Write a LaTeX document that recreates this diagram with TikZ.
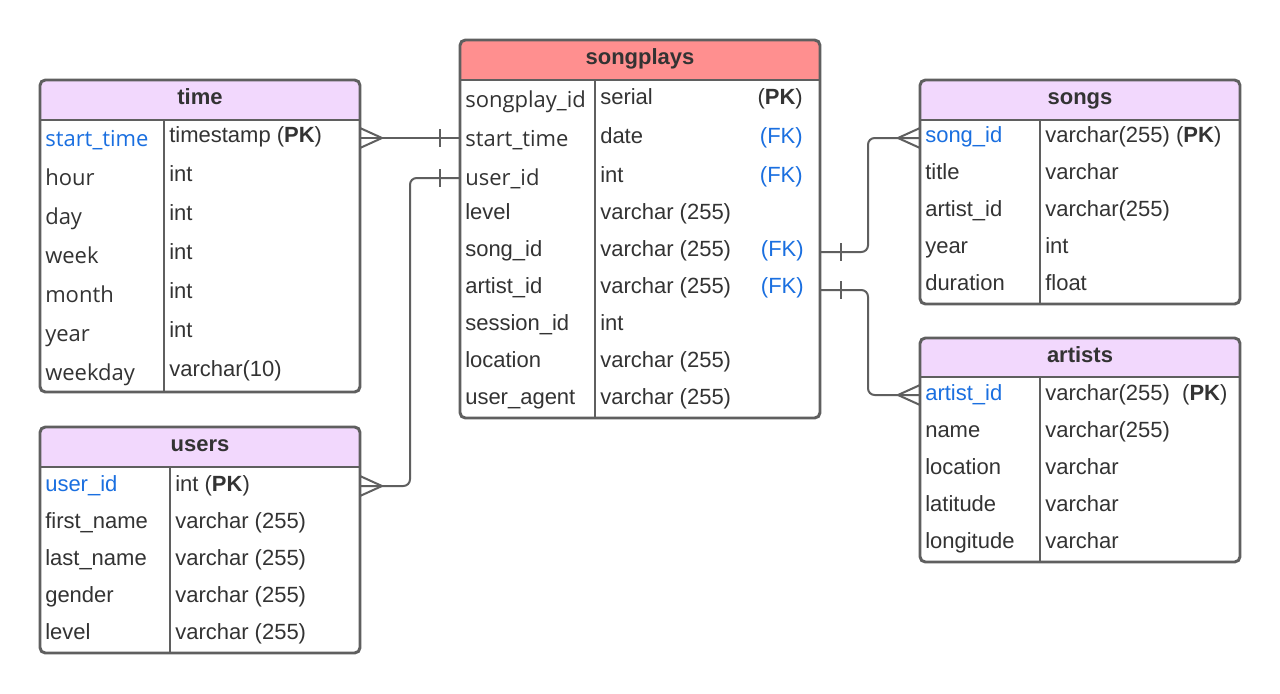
\documentclass[tikz,border=0pt]{standalone}
\usepackage{fontspec}
\usetikzlibrary{calc}
\setmainfont{Liberation Sans}
\newfontfamily\osans{Open Sans}
\definecolor{bordc}{HTML}{5F5F5F}
\definecolor{hdr}{HTML}{F2D8FD}
\definecolor{hdrr}{HTML}{FF8F8F}
\definecolor{txt}{HTML}{333333}
\definecolor{blu}{HTML}{1A6FE0}
\newcommand\fs{\fontsize{16.5}{19}\selectfont}
\newcommand\erbox[8]{%
  \begin{scope}
    \clip[rounded corners=4pt] (#2,#3) rectangle (#4,#5);
    \fill[#8] (#2,#3) rectangle (#4,#6);
  \end{scope}
  \draw[tline] (#2,#6) -- (#4,#6) (#7,#6) -- (#7,#5);
  \draw[tline, rounded corners=4pt] (#2,#3) rectangle (#4,#5);
  \coordinate (#1) at (#2,#3);
}
\tikzset{
  x=0.75pt, y=-0.75pt,
  tline/.style={draw=bordc, line width=2.2pt},
  conn/.style={draw=bordc, line width=1.5pt},
  nm/.style={anchor=base west, inner sep=0pt, text=txt, font=\fs},
  os/.style={nm, font=\fs\osans},
  rt/.style={anchor=base east, inner sep=0pt, text=txt, font=\fs},
  ttl/.style={anchor=base, inner sep=0pt, text=txt, font=\fs\bfseries},
}
\begin{document}
\begin{tikzpicture}
\useasboundingbox (0,0) rectangle (1280,693);
\fill[white] (0,0) rectangle (1280,693);

% tables
\erbox{timeT}{40}{80}{360}{392}{120}{164}{hdr}
\erbox{usersT}{40}{427}{360}{653}{467}{170}{hdr}
\erbox{spT}{460}{40}{820}{418}{80}{595}{hdrr}
\erbox{songsT}{920}{80}{1240}{304}{120}{1040}{hdr}
\erbox{artT}{920}{338}{1240}{562}{377}{1040}{hdr}

% titles
\node[ttl] (t-time) at (200,104.5) {time};
\node[ttl] (t-users) at (200,451.5) {users};
\node[ttl] (t-sp) at (640,64.5) {songplays};
\node[ttl] (t-songs) at (1080,104.5) {songs};
\node[ttl] (t-art) at (1080,362) {artists};

% time
\node[os, text=blu] (tm1) at (45,146) {start\_time};
\node[os] (tm2) at (45,185) {hour};
\node[os] (tm3) at (45,224) {day};
\node[os] (tm4) at (45,263) {week};
\node[os] (tm5) at (45,302) {month};
\node[os] (tm6) at (45,341) {year};
\node[os] (tm7) at (45,380) {weekday};
\node[nm] (tt1) at (169,142.5) {timestamp (\textbf{PK})};
\node[nm] (tt2) at (169,181.5) {int};
\node[nm] (tt3) at (169,220.5) {int};
\node[nm] (tt4) at (169,259.5) {int};
\node[nm] (tt5) at (169,298.5) {int};
\node[nm] (tt6) at (169,337.5) {int};
\node[nm] (tt7) at (169,376.5) {varchar(10)};

% users
\node[nm, text=blu] (um1) at (45,491) {user\_id};
\node[nm] (um2) at (45,528) {first\_name};
\node[nm] (um3) at (45,565) {last\_name};
\node[nm] (um4) at (45,602) {gender};
\node[nm] (um5) at (45,639) {level};
\node[nm] (ut1) at (175,491) {int (\textbf{PK})};
\node[nm] (ut2) at (175,528) {varchar (255)};
\node[nm] (ut3) at (175,565) {varchar (255)};
\node[nm] (ut4) at (175,602) {varchar (255)};
\node[nm] (ut5) at (175,639) {varchar (255)};

% songplays
\node[os] (sm1) at (465,107) {songplay\_id};
\node[os] (sm2) at (465,146) {start\_time};
\node[os] (sm3) at (465,185) {user\_id};
\node[nm] (sm4) at (465,219) {level};
\node[nm] (sm5) at (465,256) {song\_id};
\node[nm] (sm6) at (465,293) {artist\_id};
\node[nm] (sm7) at (465,330) {session\_id};
\node[nm] (sm8) at (465,367) {location};
\node[nm] (sm9) at (465,404) {user\_agent};
\node[nm] (st1) at (600,104) {serial};
\node[nm] (st2) at (600,143) {date};
\node[nm] (st3) at (600,182) {int};
\node[nm] (st4) at (600,219) {varchar (255)};
\node[nm] (st5) at (600,256) {varchar (255)};
\node[nm] (st6) at (600,293) {varchar (255)};
\node[nm] (st7) at (600,330) {int};
\node[nm] (st8) at (600,367) {varchar (255)};
\node[nm] (st9) at (600,404) {varchar (255)};
\node[rt] (sk1) at (803,104) {(\textbf{PK})};
\node[rt, text=blu] (sk2) at (803,143) {(FK)};
\node[rt, text=blu] (sk3) at (803,182) {(FK)};
\node[rt, text=blu] (sk5) at (804,256) {(FK)};
\node[rt, text=blu] (sk6) at (804,293) {(FK)};

% songs
\node[nm, text=blu] (gm1) at (925,142) {song\_id};
\node[nm] (gm2) at (925,179) {title};
\node[nm] (gm3) at (925,216) {artist\_id};
\node[nm] (gm4) at (925,253) {year};
\node[nm] (gm5) at (925,290) {duration};
\node[nm] (gt1) at (1045,142) {varchar(255) (\textbf{PK})};
\node[nm] (gt2) at (1045,179) {varchar};
\node[nm] (gt3) at (1045,216) {varchar(255)};
\node[nm] (gt4) at (1045,253) {int};
\node[nm] (gt5) at (1045,290) {float};

% artists
\node[nm, text=blu] (am1) at (925,400) {artist\_id};
\node[nm] (am2) at (925,437) {name};
\node[nm] (am3) at (925,474) {location};
\node[nm] (am4) at (925,511) {latitude};
\node[nm] (am5) at (925,548) {longitude};
\node[nm] (at1) at (1045,400) {varchar(255)\ \ (\textbf{PK})};
\node[nm] (at2) at (1045,437) {varchar(255)};
\node[nm] (at3) at (1045,474) {varchar};
\node[nm] (at4) at (1045,511) {varchar};
\node[nm] (at5) at (1045,548) {varchar};

% connector end points
\coordinate (c1a) at (360,138);
\coordinate (c1b) at (460,138);
\coordinate (c2a) at (360,486);
\coordinate (c2b) at (460,178);
\coordinate (c3a) at (820,252);
\coordinate (c3b) at (920,138);
\coordinate (c4a) at (820,290);
\coordinate (c4b) at (920,395);

% connectors
\draw[conn] (c1a) -- (c1b);
\draw[conn, rounded corners=5pt] (c2a) -- ++(50,0) |- (c2b);
\draw[conn, rounded corners=5pt] (c3a) -- ++(48,0) |- (c3b);
\draw[conn, rounded corners=5pt] (c4a) -- ++(48,0) |- (c4b);

% crow's feet (many)
\draw[conn] ($(c1a)+(0,-10)$) -- ++(22,10) -- ++(-22,10);
\draw[conn] ($(c2a)+(0,-10)$) -- ++(22,10) -- ++(-22,10);
\draw[conn] ($(c3b)+(0,-10)$) -- ++(-22,10) -- ++(22,10);
\draw[conn] ($(c4b)+(0,-10)$) -- ++(-22,10) -- ++(22,10);

% bars (one)
\draw[conn] ($(c1b)+(-20,-9)$) -- ++(0,18);
\draw[conn] ($(c2b)+(-20,-9)$) -- ++(0,18);
\draw[conn] ($(c3a)+(21,-9)$) -- ++(0,18);
\draw[conn] ($(c4a)+(21,-9)$) -- ++(0,18);
\end{tikzpicture}
\end{document}
